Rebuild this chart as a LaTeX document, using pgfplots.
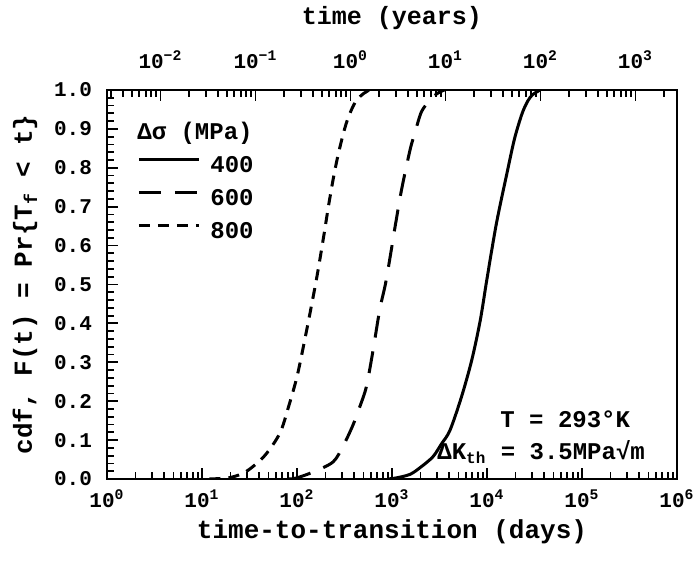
\documentclass[border=0pt]{standalone}
\usepackage{pgfplots}
\pgfplotsset{compat=1.18}
\usepackage{fontspec}
\setmainfont{Liberation Mono}
\begin{document}
\bfseries
\begin{tikzpicture}
\begin{axis}[
  at={(0pt,0pt)}, anchor=south west,
  scale only axis, width=285pt, height=194.5pt,
  xmode=log, ymin=0, ymax=1,
  axis line style={line width=1.3pt},
  tick style={black, line width=0.9pt},
  major tick length=5.5pt, minor tick length=3.5pt,
  tick align=inside,
  tick label style={font=\fontsize{10.5}{12}\selectfont},
  xmin=1, xmax=1e6,
  xtick pos=bottom, ytick pos=left,
  xtick={1,10,100,1000,10000,100000,1000000},
  xticklabels={10\textsuperscript{0},10\textsuperscript{1},10\textsuperscript{2},10\textsuperscript{3},10\textsuperscript{4},10\textsuperscript{5},10\textsuperscript{6}},
  minor xtick={2,3,4,5,6,7,8,9,20,30,40,50,60,70,80,90,200,300,400,500,600,700,800,900,2000,3000,4000,5000,6000,7000,8000,9000,20000,30000,40000,50000,60000,70000,80000,90000,200000,300000,400000,500000,600000,700000,800000,900000},
  ytick={0,0.1,0.2,0.3,0.4,0.5,0.6,0.7,0.8,0.9,1},
  yticklabels={0.0,0.1,0.2,0.3,0.4,0.5,0.6,0.7,0.8,0.9,1.0},
  minor ytick={0.02,0.04,0.06,0.08,0.12,0.14,0.16,0.18,0.22,0.24,0.26,0.28,0.32,0.34,0.36,0.38,0.42,0.44,0.46,0.48,0.52,0.54,0.56,0.58,0.62,0.64,0.66,0.68,0.72,0.74,0.76,0.78,0.82,0.84,0.86,0.88,0.92,0.94,0.96,0.98},
  yticklabel style={xshift=-4pt},
  xticklabel style={yshift=-2pt},
  xlabel={time-to-transition (days)},
  ylabel={cdf, F(t) = Pr\{T\textsubscript{f} < t\}},
  label style={font=\fontsize{13}{15}\selectfont},
  xlabel style={at={(axis description cs:0.5,-0.136)}, anchor=center},
  ylabel style={at={(axis description cs:-0.144,0.5)}, anchor=center},
  legend style={draw=none, fill=none, at={(axis description cs:0.0526,0.835)}, anchor=north west,
    font=\fontsize{12}{14}\selectfont, row sep=5pt, inner sep=0pt,
    nodes={inner sep=1pt}, column sep=4pt},
  legend cell align=left,
  legend image code/.code={\draw[#1] (0pt,3.5pt) -- (30pt,3.5pt);},
]
\addplot[black, line width=1.5pt, smooth] coordinates {
(900,0) (1122,0.003) (1549,0.012) (1995,0.03) (2692,0.057) (3311,0.09) (4074,0.125)
(5370,0.21) (6918,0.306) (8511,0.409) (10000,0.515) (12589,0.658) (16218,0.786)
(19498,0.875) (23442,0.94) (26915,0.972) (30200,0.988) (36308,1.0)};
\addlegendentry{400}
\addplot[black, line width=1.5pt, smooth, dash pattern=on 11pt off 7pt] coordinates {
(83,0) (100,0.003) (148,0.018) (240,0.044) (309,0.087) (389,0.139) (457,0.185)
(537,0.237) (631,0.33) (741,0.434) (851,0.50) (955,0.57) (1072,0.645) (1259,0.743)
(1549,0.846) (1738,0.889) (2042,0.944) (2512,0.974) (2951,0.99) (3548,1.0)};
\addlegendentry{600}
\addplot[black, line width=1.5pt, smooth, dash pattern=on 5.5pt off 4pt] coordinates {
(12,0) (20,0.004) (29.5,0.02) (45.7,0.06) (66.1,0.118) (81.3,0.185) (100,0.263)
(120,0.355) (138,0.43) (162,0.52) (190.5,0.622) (214,0.70) (240,0.77) (269,0.83)
(309,0.89) (347,0.93) (407,0.967) (479,0.987) (575,1.0)};
\addlegendentry{800}
\end{axis}
\begin{axis}[
  at={(0pt,0pt)}, anchor=south west,
  scale only axis, width=285pt, height=194.5pt,
  xmode=log, ymin=0, ymax=1,
  axis line style={line width=1.3pt},
  tick style={black, line width=0.9pt},
  major tick length=5.5pt, minor tick length=3.5pt,
  tick align=inside,
  tick label style={font=\fontsize{10.5}{12}\selectfont},
  xmin=0.00273785, xmax=2737.85,
  hide y axis,
  xtick pos=top, xticklabel pos=top,
  xtick={0.01,0.1,1,10,100,1000},
  xticklabels={10\textsuperscript{−2},10\textsuperscript{−1},10\textsuperscript{0},10\textsuperscript{1},10\textsuperscript{2},10\textsuperscript{3}},
  minor xtick={0.003,0.004,0.005,0.006,0.007,0.008,0.009,0.02,0.03,0.04,0.05,0.06,0.07,0.08,0.09,0.2,0.3,0.4,0.5,0.6,0.7,0.8,0.9,2,3,4,5,6,7,8,9,20,30,40,50,60,70,80,90,200,300,400,500,600,700,800,900,2000},
  xticklabel style={yshift=7pt},
  xlabel={time (years)},
  xlabel style={at={(axis description cs:0.5,1.185)}, anchor=center, font=\fontsize{12.5}{15}\selectfont},
]
\addplot[draw=none] coordinates {(1,0.5)};
\end{axis}
\node[anchor=west, inner sep=0pt, font=\fontsize{12}{14}\selectfont] at (15pt,173pt) {Δσ (MPa)};
\node[anchor=west, inner sep=0pt, font=\fontsize{12}{14}\selectfont] at (196.5pt,30pt) {T = 293°K};
\node[anchor=west, inner sep=0pt, font=\fontsize{12}{14}\selectfont] at (165pt,13.5pt) {ΔK\textsubscript{th} = 3.5MPa√m};
\pgfresetboundingbox
\path (-53.5pt,-44pt) rectangle (295pt,239.5pt);
\end{tikzpicture}
\end{document}
